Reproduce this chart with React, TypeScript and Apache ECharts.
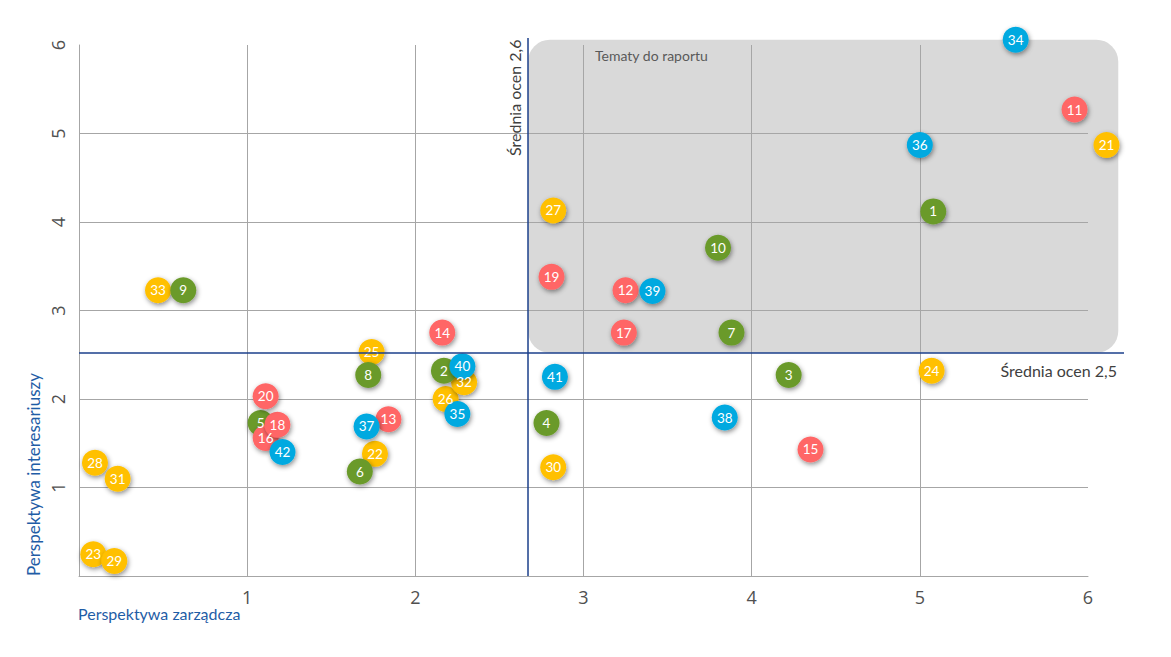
import React, { useEffect, useRef } from "react";
import * as echarts from "echarts";

// [management perspective, stakeholder perspective, topic number]
const greenTopics = [
  [5.08, 4.12, 1], [2.17, 2.32, 2], [4.22, 2.27, 3], [2.78, 1.73, 4], [1.08, 1.73, 5],
  [1.67, 1.18, 6], [3.88, 2.75, 7], [1.72, 2.27, 8], [0.62, 3.23, 9], [3.80, 3.71, 10],
];
const redTopics = [
  [5.92, 5.27, 11], [3.25, 3.23, 12], [1.84, 1.77, 13], [2.16, 2.75, 14], [4.35, 1.43, 15],
  [1.11, 1.56, 16], [3.24, 2.75, 17], [1.18, 1.71, 18], [2.81, 3.38, 19], [1.11, 2.03, 20],
];
const yellowTopics = [
  [6.11, 4.87, 21], [1.76, 1.38, 22], [0.085, 0.245, 23], [5.07, 2.32, 24], [1.74, 2.53, 25],
  [2.18, 2.0, 26], [2.82, 4.13, 27], [0.095, 1.28, 28], [0.21, 0.17, 29], [2.82, 1.23, 30],
  [0.23, 1.1, 31], [2.29, 2.19, 32], [0.47, 3.23, 33],
];
const blueTopics = [
  [5.57, 6.06, 34], [2.25, 1.83, 35], [5.0, 4.87, 36], [1.71, 1.69, 37], [3.84, 1.79, 38],
  [3.41, 3.22, 39], [2.28, 2.37, 40], [2.83, 2.25, 41], [1.21, 1.4, 42],
];

const meanX = 2.67; // "Średnia ocen 2,6"
const meanY = 2.52; // "Średnia ocen 2,5"
const zoneMaxX = 6.18;
const zoneMaxY = 6.06;

const xTitle = "Perspektywa zarządcza";
const yTitle = "Perspektywa interesariuszy";
const zoneTitle = "Tematy do raportu";
const meanXLabel = "Średnia ocen 2,6";
const meanYLabel = "Średnia ocen 2,5";

const FONT = "Lato, 'Open Sans', sans-serif";

function makeSeries(name: string, data: number[][], color: string) {
  return {
    name,
    type: "scatter",
    data,
    symbolSize: 26,
    clip: false,
    itemStyle: {
      color,
      opacity: 1,
      shadowBlur: 5,
      shadowColor: "rgba(0,0,0,0.45)",
      shadowOffsetX: 1,
      shadowOffsetY: 2,
    },
    label: {
      show: true,
      position: "inside",
      formatter: (p: any) => String(p.value[2]),
      color: "#ffffff",
      fontSize: 13.5,
      fontFamily: FONT,
    },
    emphasis: { disabled: true },
    z: 5,
  };
}

export default function App() {
  const ref = useRef<HTMLDivElement>(null);

  useEffect(() => {
    if (!ref.current) return;
    const chart = echarts.init(ref.current, null, { renderer: "svg" });
    const gridColor = "#A6A6A6";
    const axisLabel = {
      color: "#505050",
      fontSize: 18,
      fontFamily: "'Open Sans', sans-serif",
      margin: 12,
    };
    chart.setOption({
      animation: false,
      backgroundColor: "#ffffff",
      grid: {
        left: 79,
        right: 83,
        top: 45,
        bottom: 81,
        containLabel: false,
        outerBoundsMode: "none",
      },
      xAxis: {
        type: "value",
        min: 0,
        max: 6,
        interval: 1,
        axisLine: { show: true, lineStyle: { color: gridColor, width: 1 } },
        axisTick: { show: false },
        axisLabel: { ...axisLabel, formatter: (v: number) => (v === 0 ? "" : String(v)) },
        splitLine: {
          show: true,
          showMinLine: false,
          showMaxLine: false,
          lineStyle: { color: gridColor, width: 1 },
        },
      },
      yAxis: {
        type: "value",
        min: 0,
        max: 6,
        interval: 1,
        axisLine: { show: true, lineStyle: { color: gridColor, width: 1 } },
        axisTick: { show: false },
        axisLabel: {
          ...axisLabel,
          rotate: 90,
          formatter: (v: number) => (v === 0 ? "" : String(v)),
        },
        splitLine: {
          show: true,
          showMinLine: false,
          showMaxLine: false,
          lineStyle: { color: gridColor, width: 1 },
        },
      },
      series: [
        makeSeries("Żółte", yellowTopics, "#FFC000"),
        makeSeries("Zielone", greenTopics, "#6A9A2B"),
        makeSeries("Czerwone", redTopics, "#FF6666"),
        makeSeries("Niebieskie", blueTopics, "#00A9E0"),
      ],
    });

    const toPx = (x: number, y: number) =>
      chart.convertToPixel({ gridIndex: 0 }, [x, y]) as number[];
    const origin = toPx(0, 0);
    const top6 = toPx(0, 6);
    const right6 = toPx(6, 0);
    const meanPt = toPx(meanX, meanY);
    const zoneCorner = toPx(zoneMaxX, zoneMaxY);
    const navy = "#1B3F8B";

    chart.setOption({
      graphic: [
        {
          type: "rect",
          z: -10,
          silent: true,
          shape: {
            x: meanPt[0],
            y: zoneCorner[1],
            width: zoneCorner[0] - meanPt[0],
            height: meanPt[1] - zoneCorner[1],
            r: 22,
          },
          style: { fill: "#D9D9D9" },
        },
        {
          type: "line",
          z: 50,
          silent: true,
          shape: { x1: meanPt[0], y1: origin[1], x2: meanPt[0], y2: top6[1] - 7 },
          style: { stroke: navy, lineWidth: 1.5 },
        },
        {
          type: "line",
          z: 50,
          silent: true,
          shape: { x1: origin[0], y1: meanPt[1], x2: right6[0] + 36, y2: meanPt[1] },
          style: { stroke: navy, lineWidth: 1.5 },
        },
        {
          type: "text",
          z: 50,
          x: meanPt[0] - 14,
          y: top6[1] + 111,
          rotation: Math.PI / 2,
          style: {
            text: meanXLabel,
            fill: "#404040",
            fontSize: 16,
            fontFamily: FONT,
            align: "left",
            verticalAlign: "middle",
          },
        },
        {
          type: "text",
          z: 50,
          x: right6[0] + 29,
          y: meanPt[1] + 18,
          style: {
            text: meanYLabel,
            fill: "#404040",
            fontSize: 16,
            fontFamily: FONT,
            align: "right",
            verticalAlign: "middle",
          },
        },
        {
          type: "text",
          z: 50,
          x: meanPt[0] + 67,
          y: top6[1] + 10,
          style: {
            text: zoneTitle,
            fill: "#595959",
            fontSize: 14,
            fontFamily: FONT,
            align: "left",
            verticalAlign: "middle",
          },
        },
        {
          type: "text",
          z: 50,
          x: origin[0] - 1,
          y: origin[1] + 37,
          style: {
            text: xTitle,
            fill: "#1F5DA6",
            fontSize: 16,
            fontFamily: FONT,
            align: "left",
            verticalAlign: "middle",
          },
        },
        {
          type: "text",
          z: 50,
          x: 33,
          y: origin[1],
          rotation: Math.PI / 2,
          style: {
            text: yTitle,
            fill: "#1F5DA6",
            fontSize: 17,
            fontFamily: FONT,
            align: "left",
            verticalAlign: "middle",
          },
        },
      ],
    });

    return () => chart.dispose();
  }, []);

  return (
    <div
      ref={ref}
      style={{ position: "fixed", left: 0, top: 0, width: 1171, height: 657 }}
    />
  );
}
